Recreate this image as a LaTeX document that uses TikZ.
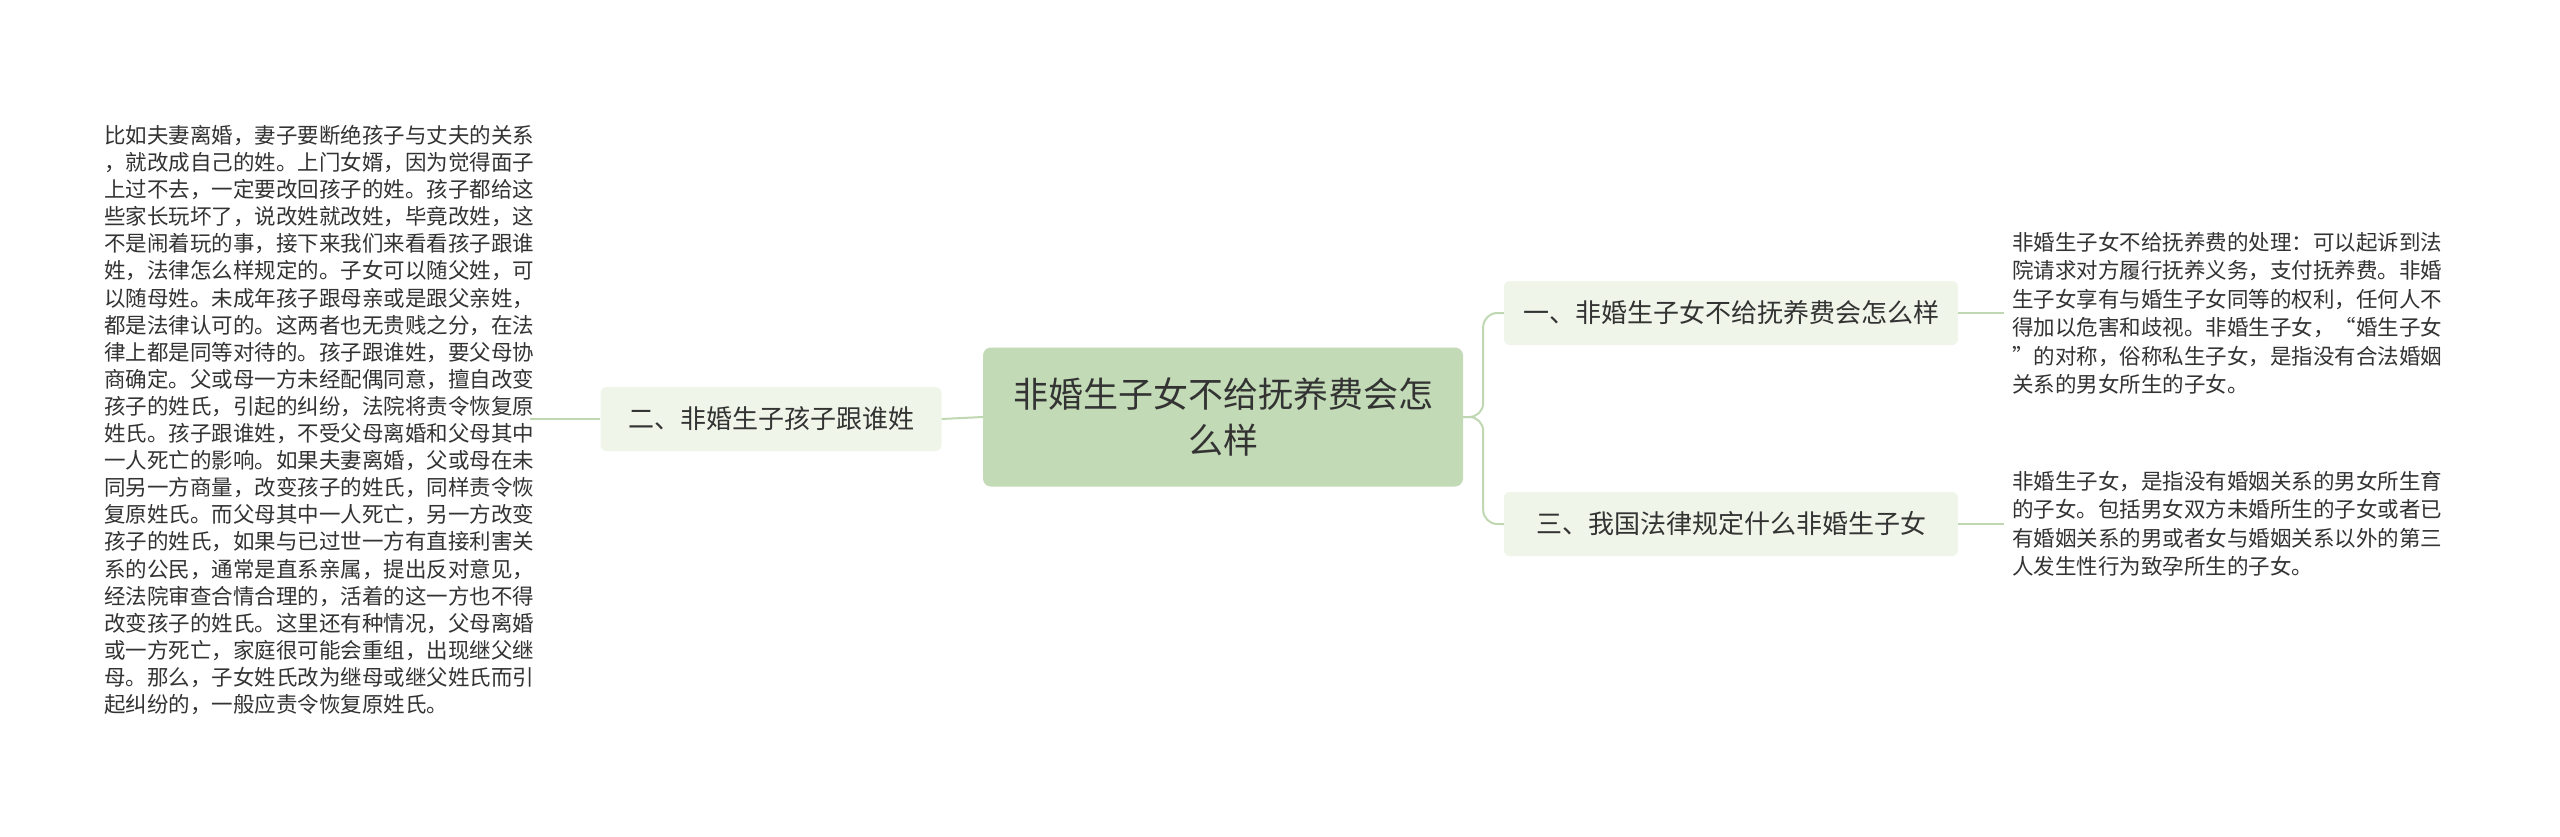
\documentclass[tikz,border=0pt]{standalone}
\usepackage{fontspec}
\setmainfont{Noto Sans CJK SC}
\begin{document}
\begin{tikzpicture}[x=1pt,y=-1pt,
  conn/.style={draw=linec,line width=2pt},
  branch/.style={fill=branchc,rounded corners=6pt,text=textc,font=\fontsize{26}{30}\selectfont,minimum height=64pt,inner xsep=12pt},
  para/.style={text=textc,align=left,inner sep=0pt,anchor=west}]
\definecolor{linec}{HTML}{BFD8B2}
\definecolor{branchc}{HTML}{EFF6E9}
\definecolor{centerc}{HTML}{C2DAB6}
\definecolor{textc}{HTML}{333333}
\useasboundingbox[fill=white] (0,0) rectangle (2560,837);
\node[fill=centerc,rounded corners=8pt,text=textc,font=\fontsize{35}{46}\selectfont,align=center,minimum width=480pt,minimum height=139pt] (c) at (1223,417) {非婚生子女不给抚养费会怎\\么样};
\node[branch,minimum width=341pt] (l) at (771,419) {二、非婚生子孩子跟谁姓};
\node[branch,minimum width=454pt] (r1) at (1731,313) {一、非婚生子女不给抚养费会怎么样};
\node[branch,minimum width=454pt] (r2) at (1731,524) {三、我国法律规定什么非婚生子女};
\node[para,font=\fontsize{21.5}{27.1}\selectfont] (lt) at (104,420) {比如夫妻离婚，妻子要断绝孩子与丈夫的关系\\，就改成自己的姓。上门女婿，因为觉得面子\\上过不去，一定要改回孩子的姓。孩子都给这\\些家长玩坏了，说改姓就改姓，毕竟改姓，这\\不是闹着玩的事，接下来我们来看看孩子跟谁\\姓，法律怎么样规定的。子女可以随父姓，可\\以随母姓。未成年孩子跟母亲或是跟父亲姓，\\都是法律认可的。这两者也无贵贱之分，在法\\律上都是同等对待的。孩子跟谁姓，要父母协\\商确定。父或母一方未经配偶同意，擅自改变\\孩子的姓氏，引起的纠纷，法院将责令恢复原\\姓氏。孩子跟谁姓，不受父母离婚和父母其中\\一人死亡的影响。如果夫妻离婚，父或母在未\\同另一方商量，改变孩子的姓氏，同样责令恢\\复原姓氏。而父母其中一人死亡，另一方改变\\孩子的姓氏，如果与已过世一方有直接利害关\\系的公民，通常是直系亲属，提出反对意见，\\经法院审查合情合理的，活着的这一方也不得\\改变孩子的姓氏。这里还有种情况，父母离婚\\或一方死亡，家庭很可能会重组，出现继父继\\母。那么，子女姓氏改为继母或继父姓氏而引\\起纠纷的，一般应责令恢复原姓氏。};
\node[para,font=\fontsize{21.5}{28.5}\selectfont] (rt1) at (2012,313) {非婚生子女不给抚养费的处理：可以起诉到法\\院请求对方履行抚养义务，支付抚养费。非婚\\生子女享有与婚生子女同等的权利，任何人不\\得加以危害和歧视。非婚生子女，“婚生子女\\”的对称，俗称私生子女，是指没有合法婚姻\\关系的男女所生的子女。};
\node[para,font=\fontsize{21.5}{28.5}\selectfont] (rt2) at (2012,524) {非婚生子女，是指没有婚姻关系的男女所生育\\的子女。包括男女双方未婚所生的子女或者已\\有婚姻关系的男或者女与婚姻关系以外的第三\\人发生性行为致孕所生的子女。};
\draw[conn,rounded corners=14pt] (c.east) -- ([xshift=20pt]c.east) |- (r1.west);
\draw[conn,rounded corners=14pt] (c.east) -- ([xshift=20pt]c.east) |- (r2.west);
\draw[conn] (c.west) -- (l.east);
\draw[conn] (l.west) -- ([xshift=-4pt]l.west -| lt.east);
\draw[conn] (r1.east) -- ([xshift=-8pt]r1.east -| rt1.west);
\draw[conn] (r2.east) -- ([xshift=-8pt]r2.east -| rt2.west);
\end{tikzpicture}
\end{document}
